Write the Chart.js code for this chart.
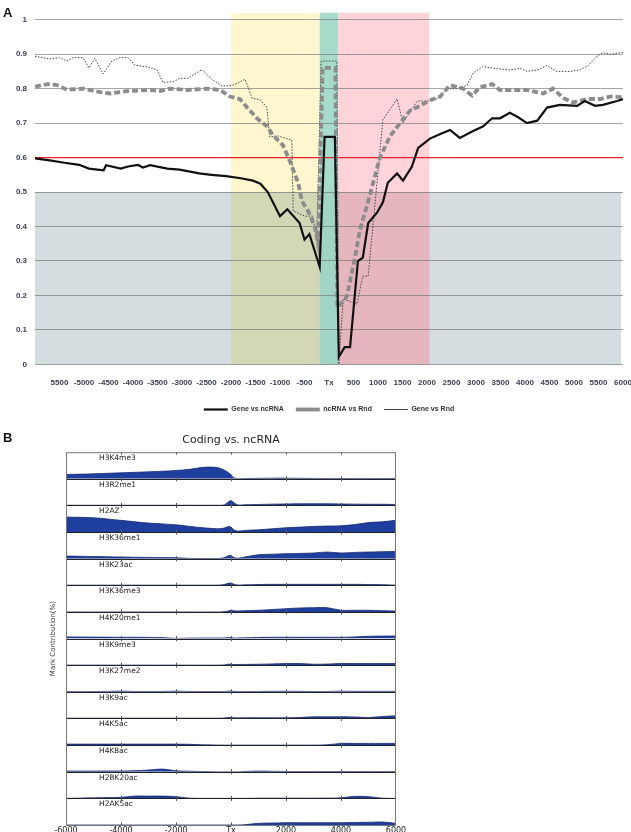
<!DOCTYPE html>
<html>
<head>
<meta charset="utf-8">
<script src="https://cdn.jsdelivr.net/npm/chart.js@4"></script>
<style>
  html, body { margin: 0; padding: 0; background: #fff; overflow: hidden; width: 631px; height: 832px; }
  canvas { position: absolute; left: 0; }
  #chartA { top: 0; }
  #chartB { top: 428px; }
  .tag { position: absolute; font: bold 13px "Liberation Sans", Arial, sans-serif; color: #111; z-index: 2; }
</style>
</head>
<body>
<canvas id="chartA" width="631" height="425"></canvas>
<canvas id="chartB" width="462" height="414"></canvas>
<div class="tag" style="left:3px;top:5px">A</div>
<div class="tag" style="left:3px;top:430px">B</div>
<script>
// ---- panel A data ----
const tickValuesA = [-5500, -5000, -4500, -4000, -3500, -3000, -2500, -2000, -1500, -1000, -500, 0,
  500, 1000, 1500, 2000, 2500, 3000, 3500, 4000, 4500, 5000, 5500, 6000];
const tickLabelsA = ['5500', '-5000', '-4500', '-4000', '-3500', '-3000', '-2500', '-2000', '-1500', '-1000', '-500', 'Tx',
  '500', '1000', '1500', '2000', '2500', '3000', '3500', '4000', '4500', '5000', '5500', '6000'];
const yTickValues = [0, 0.1, 0.2, 0.3, 0.4, 0.5, 0.6, 0.7, 0.8, 0.9, 1];
const yTickLabels = ['0', '0.1', '0.2', '0.3', '0.4', '0.5', '0.6', '0.7', '0.8', '0.9', '1'];
const threshold = 0.6;
const lowerBoxTop = 0.5;
const bandStart = [-2000, -190, 190];
const bandEnd = [-190, 190, 2050];

const geneNcX = [-6000, -5700, -5400, -5100, -4900, -4600, -4550, -4250, -4100, -3900, -3800, -3650, -3300, -3050, -2650,
  -2400, -2100, -1800, -1550, -1400, -1250, -1000, -850, -600, -500, -400, -190, -90, 120, 200, 320, 430, 590, 690, 800,
  980, 1100, 1200, 1390, 1510, 1690, 1820, 2060, 2260, 2470, 2670, 2940, 3140, 3330, 3490, 3690, 3860, 4040, 4250, 4450,
  4710, 5060, 5220, 5430, 5590, 5880, 6000];
const geneNcY = [0.598, 0.592, 0.585, 0.579, 0.568, 0.563, 0.578, 0.568, 0.574, 0.579, 0.571, 0.578, 0.568, 0.565, 0.554,
  0.550, 0.546, 0.540, 0.533, 0.524, 0.500, 0.430, 0.450, 0.410, 0.362, 0.378, 0.283, 0.660, 0.660, 0.022, 0.050, 0.050, 0.300, 0.310, 0.410,
  0.440, 0.470, 0.527, 0.554, 0.533, 0.573, 0.628, 0.655, 0.668, 0.680, 0.657, 0.677, 0.690, 0.714, 0.714, 0.730, 0.717, 0.700, 0.707, 0.745,
  0.753, 0.750, 0.764, 0.750, 0.753, 0.764, 0.770];

const ncRndX = [-6000, -5750, -5550, -5350, -5020, -4670, -4470, -4120, -3650, -3450, -3250, -2900, -2490, -2220, -2020,
  -1820, -1670, -1470, -1260, -1140, -940, -800, -630, -550, -430, -290, -220, -130, 130, 170, 330, 370, 530, 630, 800,
  900, 1040, 1250, 1450, 1650, 1860, 2020, 2270, 2470, 2740, 2920, 3080, 3330, 3490, 3690, 4040, 4370, 4570, 4780, 4980,
  5270, 5530, 5740, 6000];
const ncRndY = [0.806, 0.813, 0.810, 0.797, 0.800, 0.790, 0.786, 0.793, 0.796, 0.793, 0.800, 0.796, 0.800, 0.796, 0.777,
  0.770, 0.745, 0.714, 0.690, 0.664, 0.636, 0.590, 0.527, 0.473, 0.446, 0.400, 0.348, 0.860, 0.860, 0.165, 0.190, 0.200, 0.310, 0.390, 0.473,
  0.527, 0.600, 0.663, 0.700, 0.736, 0.750, 0.764, 0.777, 0.810, 0.800, 0.780, 0.804, 0.813, 0.796, 0.796, 0.796, 0.786, 0.800, 0.773, 0.760,
  0.770, 0.770, 0.777, 0.775];

const geneRndX = [-6000, -5700, -5500, -5350, -5220, -5020, -4900, -4780, -4610, -4430, -4270, -4100, -3960, -3710, -3510,
  -3390, -3180, -3040, -2880, -2590, -2390, -2180, -1960, -1710, -1570, -1410, -1270, -1210, -1050, -860, -760, -730, -490,
  -330, -250, -160, 160, 200, 290, 570, 690, 800, 1100, 1390, 1510, 1800, 2000, 2200, 2410, 2610, 2820, 2940, 3140, 3430,
  3690, 3900, 4040, 4250, 4450, 4650, 4920, 5120, 5290, 5470, 5590, 5740, 6000];
const geneRndY = [0.894, 0.886, 0.890, 0.880, 0.890, 0.890, 0.860, 0.888, 0.843, 0.880, 0.890, 0.890, 0.868, 0.863, 0.855,
  0.818, 0.820, 0.830, 0.830, 0.855, 0.827, 0.807, 0.810, 0.827, 0.772, 0.768, 0.746, 0.660, 0.663, 0.655, 0.650, 0.445, 0.430,
  0.430, 0.364, 0.880, 0.880, 0.000, 0.190, 0.175, 0.256, 0.256, 0.710, 0.770, 0.700, 0.764, 0.764, 0.770, 0.800, 0.800, 0.810, 0.845, 0.864, 0.858,
  0.854, 0.859, 0.850, 0.854, 0.867, 0.850, 0.850, 0.854, 0.867, 0.894, 0.904, 0.900, 0.905];

// ---- panel B data (mark contribution, %) ----
const markX = [-6000, -5000, -4000, -3500, -3000, -2500, -2000, -1500, -1000, -500, -250, -100, 0, 100, 250, 500,
  1000, 1500, 2000, 2500, 3000, 3500, 4000, 4500, 5000, 5500, 6000];
const tickValuesB = [-6000, -4000, -2000, 0, 2000, 4000, 6000];
const tickLabelsB = ['-6000', '-4000', '-2000', 'Tx', '2000', '4000', '6000'];
const markNames = ['H3K4me3', 'H3R2me1', 'H2AZ', 'H3K36me1', 'H3K23ac', 'H3K36me3', 'H4K20me1',
  'H3K9me3', 'H3K27me2', 'H3K9ac', 'H4K5ac', 'H4K8ac', 'H2BK20ac', 'H2AK5ac'];
const h3k4me3 = [4.3, 5.0, 6.0, 6.5, 7.0, 7.6, 8.3, 9.5, 11.5, 11.3, 8.8, 6.3, 4.3, 1.2, 0.2, 0.3, 0.5, 0.7, 0.7, 0.5, 0.4, 0.3, 0.3, 0.3, 0.3, 0.3, 0.3];
const h3r2me1 = [0.2, 0.2, 0.2, 0.2, 0.2, 0.2, 0.2, 0.2, 0.2, 0.2, 0.5, 3.5, 5.0, 3.0, 0.5, 0.7, 1.0, 1.3, 1.5, 1.7, 1.7, 1.7, 1.5, 1.3, 1.2, 1.2, 1.0];
const h2az = [15, 14.3, 11.7, 10.3, 9, 8.2, 7.3, 5.7, 4.3, 3.3, 4, 5.5, 5, 2.3, 1, 1.7, 2.3, 3.3, 4.3, 5, 5.7, 6, 6.3, 7.5, 9.5, 10.3, 11.7];
const h3k36me1 = [2.7, 2.2, 1.7, 1.5, 1.3, 1.1, 1, 0.3, 0.2, 0.2, 1, 3, 3.3, 1.2, 0.5, 1.7, 4, 4.5, 5, 5.3, 5.7, 6.7, 5.7, 6.3, 6.7, 7, 7.3];
const h3k23ac = [0.2, 0.2, 0.2, 0.2, 0.2, 0.2, 0.2, 0.2, 0.2, 0.2, 0.8, 2, 2.3, 1.2, 0.3, 0.5, 0.8, 1, 1, 1, 1, 1, 1, 1, 0.8, 0.7, 0.2];
const h3k36me3 = [0, 0, 0, 0, 0, 0, 0, 0, 0, 0, 0.2, 1, 1.7, 1.2, 1, 1.3, 1.7, 2.5, 3.3, 4, 4.3, 4.3, 1.7, 1.7, 1.7, 1.3, 1];
const h4k20me1 = [1.7, 1.5, 1.3, 1.3, 1.2, 1.0, 0.2, 0.5, 0.6, 0.6, 0.7, 1, 1, 0.5, 0.6, 0.8, 1.2, 1.3, 1.3, 1.3, 1.3, 1.3, 1.3, 1.7, 2.3, 2.5, 2.7];
const h3k9me3 = [0.1, 0.1, 0.1, 0.1, 0.1, 0.1, 0.1, 0.1, 0.1, 0.1, 0.3, 1, 1, 0.7, 0.7, 0.8, 1, 1.3, 1.7, 1.7, 1, 1.2, 1.7, 1.7, 1.7, 1.7, 1.7];
const h3k27me2 = [0.3, 0.3, 0.7, 0.4, 0.4, 0.4, 0.7, 0.4, 0.3, 0.3, 0.4, 0.7, 0.7, 0.5, 0.3, 0.3, 0.4, 0.5, 0.6, 0.5, 0.3, 0.4, 0.7, 0.5, 0.5, 0.5, 0.5];
const h3k9ac = [0.3, 0.3, 0.3, 0.3, 0.3, 0.3, 0.3, 0.3, 0.3, 0.3, 0.5, 1, 1, 0.7, 0.6, 0.7, 0.7, 0.7, 0.7, 1, 1.7, 1.7, 1.7, 1.5, 1, 2, 2.7];
const h4k5ac = [1, 1, 1, 1, 1, 1, 1, 0.8, 0.3, 0.1, 0, 0, 0, 0, 0, 0, 0, 0, 0, 0, 0, 0.3, 1.7, 1.7, 1.7, 1.7, 1.7];
const h4k8ac = [0.7, 0.7, 0.8, 1.0, 1.7, 2.7, 1, 0.5, 0.2, 0, 0, 0, 0, 0, 0, 0.3, 0.7, 0.5, 0.2, 0.2, 0.2, 0.2, 0.2, 0.2, 0.2, 0.2, 0.2];
const h2bk20ac = [0, 0.5, 1, 2.3, 2.3, 2.3, 1.7, 0.2, 0, 0, 0, 0, 0, 0, 0, 0, 0.2, 0.2, 0.2, 0.2, 0.2, 0.3, 0.5, 2, 1.7, 0.2, 0];
const h2ak5ac = [0, 0, 0, 0, 0, 0, 0, 0, 0, 0, 0, 0, 0, 0, 0, 0.3, 1.7, 2, 2.3, 2.3, 2.3, 2.3, 2.3, 2.5, 2.7, 3, 1.7];
const markValues = [h3k4me3, h3r2me1, h2az, h3k36me1, h3k23ac, h3k36me3, h4k20me1,
  h3k9me3, h3k27me2, h3k9ac, h4k5ac, h4k8ac, h2bk20ac, h2ak5ac];
const rowMax = 26.6;

const pts = (xs, ys) => xs.map((x, i) => ({ x, y: ys[i] }));

// shaded regions behind panel A
const bandsPlugin = {
  id: 'bands',
  beforeDraw(chart) {
    const { ctx, chartArea, scales: { x, y } } = chart;
    const upper = ['#fdf6cf', '#a7dccc', '#fed3da'];
    const lower = ['#d4d7b6', '#a0d5c5', '#e5b6be'];
    const y0 = y.getPixelForValue(0);
    const yMid = y.getPixelForValue(lowerBoxTop);
    ctx.save();
    ctx.fillStyle = '#d5dde0';
    ctx.fillRect(chartArea.left, yMid, chartArea.right - chartArea.left - 2, y0 - yMid);
    bandStart.forEach((s, i) => {
      const xa = x.getPixelForValue(s);
      const xb = x.getPixelForValue(bandEnd[i]);
      ctx.fillStyle = upper[i];
      ctx.fillRect(xa, chartArea.top, xb - xa, yMid - chartArea.top);
      ctx.fillStyle = lower[i];
      ctx.fillRect(xa, yMid, xb - xa, y0 - yMid);
    });
    ctx.restore();
  }
};

const tickFontA = { family: 'Liberation Sans', size: 8, weight: 'bold' };

new Chart(document.getElementById('chartA'), {
  type: 'line',
  data: {
    datasets: [
      { label: 'Gene vs ncRNA', data: pts(geneNcX, geneNcY), borderColor: '#111', borderWidth: 2.2 },
      { label: 'ncRNA vs Rnd', data: pts(ncRndX, ncRndY), borderColor: '#8c8c8c', borderWidth: 3.8, borderDash: [6, 3] },
      { label: 'Gene vs Rnd', data: pts(geneRndX, geneRndY), borderColor: '#444', borderWidth: 1, borderDash: [1.5, 1.5] },
      { label: 'inner', data: pts(ncRndX, ncRndY), borderColor: '#cfcfcf', borderWidth: 1.4, borderDash: [6, 3] },
      { label: 'threshold', data: [{ x: -6000, y: threshold }, { x: 6000, y: threshold }], borderColor: '#e8202a', borderWidth: 1.2 }
    ]
  },
  options: {
    responsive: false,
    animation: false,
    elements: { point: { radius: 0 }, line: { tension: 0 } },
    layout: { padding: { top: 6, right: 0, left: 0, bottom: 2 } },
    scales: {
      x: {
        type: 'linear', min: -6000, max: 6000,
        afterBuildTicks: axis => { axis.ticks = tickValuesA.map(v => ({ value: v })); },
        // let the last label run past the edge, as in the original
        afterFit: axis => { axis.paddingRight = 8; },
        ticks: {
          autoSkip: false, maxRotation: 0, padding: 6, color: '#3b4150', font: tickFontA,
          callback: v => tickLabelsA[tickValuesA.indexOf(v)]
        },
        grid: { display: false },
        border: { display: false }
      },
      y: {
        min: 0, max: 1.02,
        afterFit: axis => { axis.width = 35; },
        afterBuildTicks: axis => { axis.ticks = yTickValues.map(v => ({ value: v })); },
        ticks: {
          padding: 8, color: '#3b4150', font: tickFontA,
          callback: v => yTickLabels[yTickValues.indexOf(v)]
        },
        grid: { color: 'rgba(100,108,108,0.6)', lineWidth: 1, drawTicks: false },
        border: { display: false }
      }
    },
    plugins: {
      legend: {
        position: 'bottom',
        fullSize: false,
        labels: {
          filter: item => item.datasetIndex < 3,
          usePointStyle: true,
          pointStyle: 'line',
          pointStyleWidth: 24,
          boxHeight: 7,
          padding: 12,
          color: '#333',
          font: { family: 'Liberation Sans', size: 7, weight: 'bold' }
        }
      },
      tooltip: { enabled: false }
    }
  },
  plugins: [bandsPlugin]
});

// ---- panel B ----
// stacked row axes; the layout puts the last defined one on top, so add them bottom-up
const rowScales = {};
for (let i = markNames.length - 1; i >= 0; i--) {
  rowScales['r' + i] = {
    type: 'linear', position: 'left', stack: 'rows', stackWeight: 1, min: 0, max: rowMax,
    afterFit: axis => { axis.width = 0; },
    ticks: { display: false }, grid: { display: false, drawTicks: false }, border: { display: false }
  };
}

const rowsPlugin = {
  id: 'rows',
  afterDraw(chart) {
    const { ctx, chartArea, scales } = chart;
    const x = scales.x;
    ctx.save();
    markNames.forEach((name, i) => {
      const s = scales['r' + i];
      ctx.strokeStyle = '#222';
      ctx.lineWidth = 1;
      ctx.beginPath();
      ctx.moveTo(chartArea.left, Math.round(s.bottom) + 0.5);
      ctx.lineTo(chartArea.right, Math.round(s.bottom) + 0.5);
      ctx.stroke();
      ctx.strokeStyle = '#555';
      tickValuesB.slice(1, -1).forEach(v => {
        const px = Math.round(x.getPixelForValue(v)) + 0.5;
        ctx.beginPath();
        ctx.moveTo(px, s.bottom - 2.5);
        ctx.lineTo(px, s.bottom);
        ctx.moveTo(px, s.top);
        ctx.lineTo(px, s.top + 2.5);
        ctx.stroke();
      });
      ctx.fillStyle = '#222';
      ctx.font = '7.5px "DejaVu Sans"';
      ctx.textBaseline = 'middle';
      ctx.fillText(name, chartArea.left + 33, s.top + 6);
    });
    ctx.strokeStyle = '#777';
    ctx.strokeRect(chartArea.left + 0.5, chartArea.top + 0.5, chartArea.right - chartArea.left - 1, chartArea.bottom - chartArea.top);
    ctx.translate(chartArea.left - 13, (chartArea.top + chartArea.bottom) / 2);
    ctx.rotate(-Math.PI / 2);
    ctx.textAlign = 'center';
    ctx.font = '7px "DejaVu Sans"';
    ctx.fillStyle = '#333';
    ctx.fillText('Mark Contribution(%)', 0, 0);
    ctx.restore();
  }
};

new Chart(document.getElementById('chartB'), {
  type: 'line',
  data: {
    datasets: markNames.map((name, i) => ({
      label: name,
      data: pts(markX, markValues[i]),
      yAxisID: 'r' + i,
      fill: 'origin',
      backgroundColor: '#1f3f9e',
      borderColor: '#1a2b70',
      borderWidth: 0.8,
      pointRadius: 0,
      tension: 0.3
    }))
  },
  options: {
    responsive: false,
    animation: false,
    layout: { padding: { top: 0, right: 66, left: 66, bottom: 1 } },
    scales: Object.assign({
      x: {
        type: 'linear', min: -6000, max: 6000,
        afterBuildTicks: axis => { axis.ticks = tickValuesB.map(v => ({ value: v })); },
        afterFit: axis => { axis.height = 16; },
        ticks: {
          autoSkip: false, maxRotation: 0, padding: 1, color: '#222',
          font: { family: 'DejaVu Sans', size: 8 },
          callback: v => tickLabelsB[tickValuesB.indexOf(v)]
        },
        grid: { display: false, drawTicks: false },
        border: { display: false }
      }
    }, rowScales),
    plugins: {
      legend: { display: false },
      tooltip: { enabled: false },
      title: {
        display: true,
        text: 'Coding vs. ncRNA',
        color: '#222',
        font: { family: 'DejaVu Sans', size: 11, weight: 'normal' },
        padding: { top: 6, bottom: 5 }
      }
    }
  },
  plugins: [rowsPlugin]
});
</script>
</body>
</html>
